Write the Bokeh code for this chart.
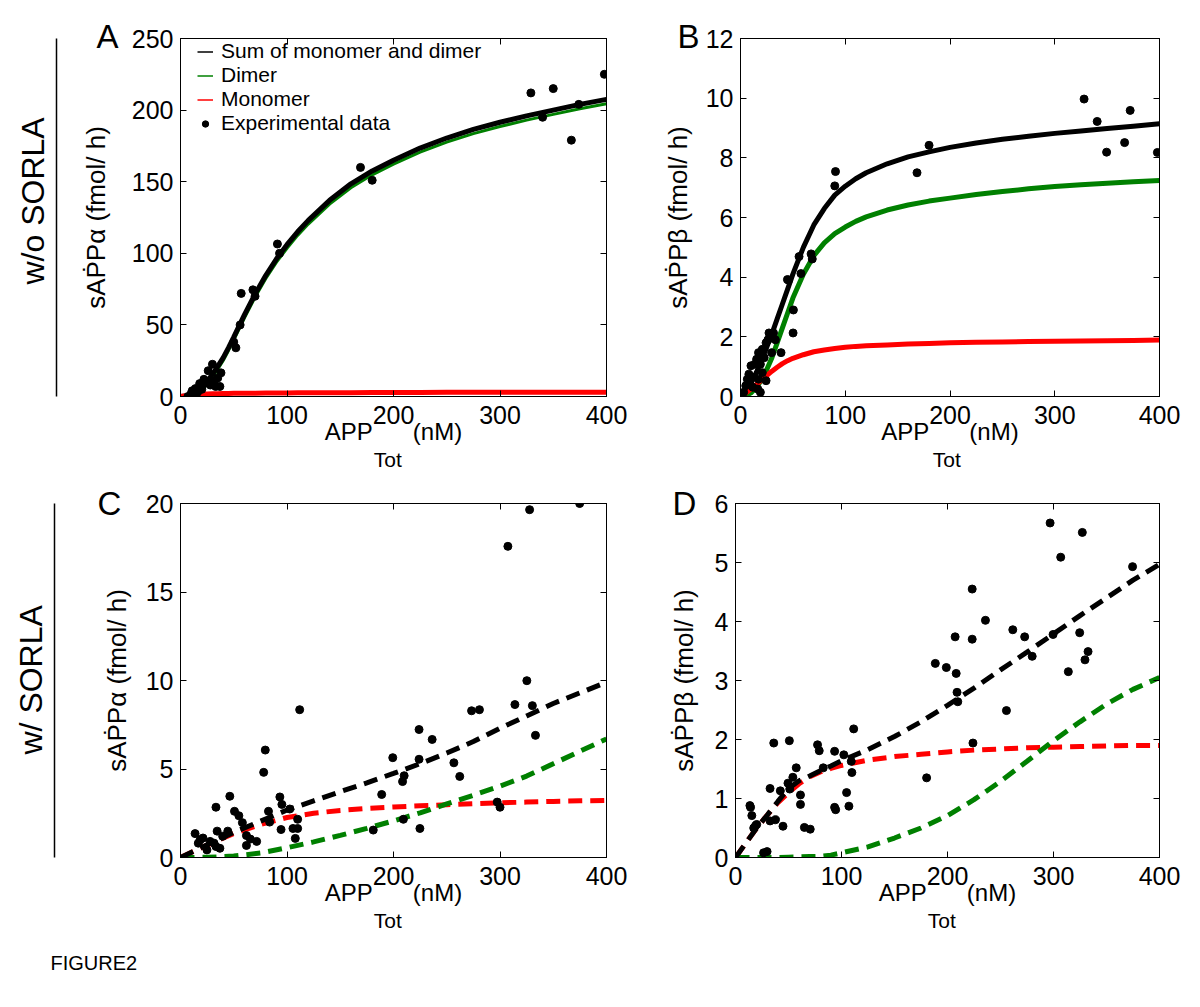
import math
from bokeh.plotting import figure
from bokeh.layouts import row, column
from bokeh.models import Range1d, LinearAxis, FixedTicker, Legend, LegendItem, Title
from bokeh.embed import file_html
from bokeh.resources import INLINE

FONT = "Liberation Sans"
BLACK = "#000000"
GREEN = "#008000"
RED = "#ff0000"

# ---------------- data ----------------
x_ticks = [0, 100, 200, 300, 400]
a_y_ticks = [0, 50, 100, 150, 200, 250]
b_y_ticks = [0, 2, 4, 6, 8, 10, 12]
c_y_ticks = [0, 5, 10, 15, 20]
d_y_ticks = [0, 1, 2, 3, 4, 5, 6]

ab_x = [0, 5, 10, 15, 20, 25, 30, 35, 40, 45, 50, 60, 70, 80, 90, 100, 110, 120, 140, 160,
        180, 200, 225, 250, 275, 300, 325, 350, 375, 400]
a_sum = [0, 0.3, 1.2, 3.2, 6.0, 10.5, 15.5, 21, 27, 34, 41.5, 57, 71.5, 84.5, 96, 106, 115, 123,
         137, 148.5, 157.5, 165, 173.5, 180.5, 186.5, 191.5, 196, 200, 204, 207.5]
a_dimer = [0, 0.05, 0.3, 1.8, 4.4, 8.9, 13.7, 19.1, 25, 32, 39.4, 54.8, 69.3, 82.2, 93.6, 103.5,
           112.5, 120.4, 134.4, 145.8, 154.8, 162.3, 170.7, 177.6, 183.6, 188.5, 193, 197, 201, 204.5]
a_mono = [0, 0.6, 1.1, 1.4, 1.6, 1.75, 1.9, 2.0, 2.1, 2.15, 2.2, 2.3, 2.35, 2.4, 2.45, 2.5, 2.55,
          2.6, 2.65, 2.7, 2.75, 2.8, 2.85, 2.9, 2.92, 2.95, 2.98, 3.0, 3.02, 3.05]
a_data_x = [7, 10, 11, 14, 16, 18, 20, 22, 24, 26, 28, 30, 32, 33, 35, 37, 38, 50, 52, 56, 57, 68,
            70, 91, 93, 169, 180, 329, 340, 350, 367, 374, 398]
a_data_y = [0, 2, 4, 5.5, 3, 9, 5, 12, 9.5, 18, 8, 22.5, 11, 7, 13, 7, 16.5, 38, 34, 50, 72, 74.5,
            70, 106.5, 100, 160, 151, 212, 195, 215, 179, 204, 225]

b_sum = [0, 0.15, 0.45, 0.8, 1.2, 1.65, 2.1, 2.6, 3.1, 3.6, 4.1, 5.0, 5.75, 6.3, 6.75, 7.05, 7.3,
         7.5, 7.8, 8.03, 8.2, 8.35, 8.5, 8.62, 8.72, 8.82, 8.9, 8.98, 9.06, 9.14]
b_dimer = [0, 0.02, 0.12, 0.3, 0.55, 0.9, 1.3, 1.8, 2.3, 2.8, 3.3, 4.1, 4.72, 5.15, 5.46, 5.68,
           5.87, 6.02, 6.25, 6.42, 6.55, 6.65, 6.77, 6.87, 6.96, 7.04, 7.1, 7.15, 7.2, 7.24]
b_mono = [0, 0.12, 0.25, 0.4, 0.55, 0.7, 0.85, 0.98, 1.1, 1.2, 1.28, 1.4, 1.5, 1.56, 1.61, 1.65,
          1.68, 1.7, 1.73, 1.76, 1.78, 1.8, 1.82, 1.83, 1.84, 1.85, 1.86, 1.87, 1.88, 1.89]
b_data_x = [3, 5, 6.5, 8, 10, 11.8, 11.8, 13.6, 15.4, 16.5, 17.2, 17.2, 19, 19, 20.8, 20.8, 22.6,
            24.4, 24.4, 26.2, 27.2, 29.7, 31.5, 33.3, 38.7, 44.8, 45.9, 50.2, 50.5, 55.9, 57.7,
            67.4, 68.5, 90, 90.7, 168.5, 180, 328, 340.5, 349.5, 366.7, 372, 398]
b_data_y = [0.14, 0.36, 0.58, 0.75, 1.03, 0.64, 0.31, 1.08, 1.25, 0.25, 1.47, 0.58, 1.08, 0.14,
            1.58, 0.8, 1.3, 1.8, 0.53, 1.9, 2.13, 1.47, 2.13, 1.9, 1.47, 3.92, 3.9, 2.13, 2.9,
            4.69, 4.12, 4.78, 4.61, 7.06, 7.54, 7.5, 8.42, 9.97, 9.22, 8.19, 8.51, 9.59, 8.18]

c_x = [0, 25, 50, 75, 100, 125, 150, 175, 200, 225, 250, 275, 300, 325, 350, 375, 400]
c_sum = [0, 0.72, 1.42, 2.05, 2.68, 3.2, 3.72, 4.22, 4.75, 5.3, 5.9, 6.55, 7.3, 8.0, 8.7, 9.3, 9.9]
c_mono = [0, 0.7, 1.36, 1.86, 2.26, 2.5, 2.66, 2.77, 2.85, 2.92, 2.98, 3.04, 3.09, 3.13, 3.17,
          3.2, 3.22]
c_dimer = [0, 0.01, 0.08, 0.25, 0.55, 0.88, 1.25, 1.65, 2.07, 2.52, 3.03, 3.52, 4.03, 4.6, 5.3,
           6.0, 6.7]
c_data_x = [13.7, 16.7, 18.5, 21.1, 24.8, 27.8, 31.5, 33.3, 33.3, 34.4, 37, 39.6, 44.4, 46.3,
            50.7, 54.8, 58.1, 61.9, 61.9, 65.6, 71.5, 78.1, 79.6, 82.6, 83.7, 93.3, 94.4, 95.2,
            102.6, 105.6, 107.8, 110, 110, 111.9, 181, 188.9, 199.3, 208.5, 209.3, 210, 224, 224,
            224.8, 236.3, 256.7, 262.2, 273.3, 280.7, 297.4, 300, 307.4, 314, 325.2, 327.8, 330.4,
            333.3, 374.8]
c_data_y = [1.35, 0.81, 1.0, 1.1, 0.43, 0.91, 0.81, 0.62, 2.84, 1.49, 0.52, 1.2, 1.49, 3.46, 2.61,
            2.36, 1.97, 1.24, 0.68, 1.04, 0.91, 4.81, 6.07, 2.61, 2.0, 3.42, 1.58, 3.0, 2.74, 1.64,
            1.08, 2.16, 1.64, 8.35, 1.55, 3.56, 5.64, 4.29, 2.16, 4.62, 7.23, 5.55, 1.64, 6.67,
            5.35, 4.58, 8.29, 8.35, 3.13, 2.84, 17.58, 8.64, 9.99, 19.65, 8.58, 6.9, 20.0]

d_x = [0, 10, 20, 30, 40, 50, 60, 70, 80, 90, 100, 125, 150, 175, 200, 225, 250, 275, 300, 325,
       350, 375, 400]
d_sum = [0, 0.25, 0.5, 0.72, 0.95, 1.17, 1.3, 1.38, 1.47, 1.55, 1.64, 1.83, 2.05, 2.3, 2.58, 2.87,
         3.18, 3.48, 3.79, 4.1, 4.4, 4.7, 4.97]
d_mono = [0, 0.25, 0.5, 0.72, 0.93, 1.1, 1.25, 1.37, 1.45, 1.51, 1.56, 1.65, 1.71, 1.75, 1.79,
          1.82, 1.84, 1.86, 1.87, 1.88, 1.89, 1.9, 1.9]
d_dimer = [0, 0, 0, 0, 0, 0.005, 0.01, 0.015, 0.02, 0.04, 0.08, 0.18, 0.33, 0.5, 0.71, 0.98, 1.29,
           1.63, 1.98, 2.3, 2.6, 2.85, 3.05]
d_data_x = [13.6, 14.2, 15.4, 17.2, 18.9, 20, 26.5, 29.8, 32.6, 32.6, 36.1, 37.7, 42.3, 44.8, 49.5,
            50.8, 51.2, 54.1, 57.3, 61.3, 61.3, 65, 70.5, 77.4, 79, 82.8, 93.5, 93.5, 94.5, 102.2,
            104.8, 107, 109.2, 109.8, 111.5, 180.3, 188.5, 198.9, 207.2, 208.2, 209, 209.7, 223.3,
            223.3, 224, 235.8, 255.6, 261.6, 272.8, 279.9, 296.8, 299.6, 306.8, 314, 324.7, 327.2,
            329.7, 332.6, 374.6]
d_data_y = [0.88, 0.85, 0.71, 0.5, 0.54, 0.56, 0.08, 0.1, 1.17, 0.62, 1.94, 0.64, 1.13, 0.53, 1.26,
            1.98, 1.16, 1.36, 1.52, 1.06, 0.9, 0.51, 0.48, 1.91, 1.81, 1.52, 1.8, 0.85, 0.81, 1.74,
            1.1, 0.87, 1.63, 1.44, 2.18, 1.35, 3.29, 3.22, 3.74, 3.12, 2.8, 2.64, 4.55, 3.70, 1.94,
            4.02, 2.49, 3.86, 3.74, 3.41, 5.67, 3.78, 5.09, 3.15, 3.81, 5.51, 3.35, 3.49, 4.93]

legend_labels = ["Sum of monomer and dimer", "Dimer", "Monomer", "Experimental data"]

# ---------------- helpers ----------------
NB = "\u00a0"
ARIAL_W = {' ': 278, NB: 278, '(': 333, ')': 333, 'A': 667, 'P': 667, 'T': 611, 'M': 833,
           'o': 556, 'n': 556, 't': 278}


def tw(s, size):
    return sum(ARIAL_W.get(c, 556) for c in s) / 1000.0 * size


def style_axis(ax, show, standoff):
    ax.major_tick_in = 6
    ax.major_tick_out = 0
    ax.minor_tick_in = 0
    ax.minor_tick_out = 0
    ax.minor_tick_line_color = None
    ax.axis_line_color = "black"
    ax.axis_line_width = 1
    ax.major_tick_line_color = "black"
    ax.major_tick_line_width = 1
    ax.major_label_text_font = FONT
    if show:
        ax.major_label_text_color = "black"
        ax.major_label_text_font_size = "25px"
        ax.major_label_standoff = standoff
    else:
        ax.major_label_text_color = None
        ax.major_label_text_font_size = "0px"
        ax.major_label_standoff = 0


def add_title(p, side, text, size, align="left", offset=0.0, standoff=0.0, valign="bottom"):
    p.add_layout(Title(text=text, align=align, offset=offset, standoff=standoff,
                       vertical_align=valign, text_font=FONT, text_font_size=f"{size}px",
                       text_font_style="normal", text_color="black"), side)


def bare_axis(ticks, tick_out, line_color, line_width=1.5):
    ax = LinearAxis(ticker=FixedTicker(ticks=ticks))
    ax.major_tick_line_color = None
    ax.minor_tick_line_color = None
    ax.major_tick_in = 0
    ax.major_tick_out = tick_out
    ax.minor_tick_in = 0
    ax.minor_tick_out = 0
    ax.major_label_text_color = None
    ax.major_label_text_font_size = "0px"
    ax.major_label_standoff = 0
    ax.axis_line_color = line_color
    ax.axis_line_width = line_width
    return ax


def panel(width, height, mbl, mbr, mbt, mbb, ymax, yticks):
    p = figure(width=width, height=height, x_range=Range1d(0, 400), y_range=Range1d(0, ymax),
               output_backend="svg", toolbar_location=None, title_location=None,
               min_border_left=mbl, min_border_right=mbr, min_border_top=mbt, min_border_bottom=mbb)
    p.xgrid.visible = False
    p.ygrid.visible = False
    p.outline_line_color = "black"
    p.outline_line_width = 1
    p.background_fill_color = "white"
    p.border_fill_color = "white"
    p.xaxis.ticker = FixedTicker(ticks=x_ticks)
    p.yaxis.ticker = FixedTicker(ticks=yticks)
    style_axis(p.xaxis[0], True, 9)
    style_axis(p.yaxis[0], True, 7)
    top_ax = LinearAxis(ticker=FixedTicker(ticks=x_ticks))
    style_axis(top_ax, False, 0)
    p.add_layout(top_ax, "above")
    right_ax = LinearAxis(ticker=FixedTicker(ticks=yticks))
    style_axis(right_ax, False, 0)
    p.add_layout(right_ax, "right")
    return p


def decorate(p, frame_w, letter, letter_off, letter_so, greek, ylab_so):
    # panel letter, drawn from the top side panel down onto the frame corner
    add_title(p, "above", letter, 33, align="left", offset=letter_off, standoff=letter_so,
              valign="bottom")
    # x label: APP_Tot(nM)
    S, s = 24, 21
    main = "APP" + NB * 6 + "(nM)"
    start = frame_w / 2 - tw(main, S) / 2
    add_title(p, "below", main, S, align="center", standoff=-17, valign="top")
    add_title(p, "below", "Tot", s, align="left", offset=start + tw("APP", S) + 1, standoff=14,
              valign="bottom")
    # y label
    add_title(p, "left", "sA\u1E56P" + greek + " (fmol/ h)", 26, align="center",
              standoff=ylab_so, valign="bottom")


# ---------------- panels ----------------
ROW1_H, ROW2_H = 482, 515
pA = panel(650, ROW1_H, 180, 44, 38, 86, 250, a_y_ticks)
pA.line(ab_x, a_dimer, color=GREEN, line_width=3)
pA.line(ab_x, a_sum, color=BLACK, line_width=5)
pA.line(ab_x, a_mono, color=RED, line_width=5)
dotsA = pA.scatter(a_data_x, a_data_y, size=8, color=BLACK)
lg1 = pA.line(x=ab_x[:1], y=a_sum[:1], color=BLACK, line_width=1.5)
lg2 = pA.line(x=ab_x[:1], y=a_dimer[:1], color=GREEN, line_width=1.5)
lg3 = pA.line(x=ab_x[:1], y=a_mono[:1], color=RED, line_width=1.5)
legend = Legend(items=[LegendItem(label=legend_labels[0], renderers=[lg1]),
                       LegendItem(label=legend_labels[1], renderers=[lg2]),
                       LegendItem(label=legend_labels[2], renderers=[lg3]),
                       LegendItem(label=legend_labels[3], renderers=[dotsA])],
                location=(17, 358 - 97), glyph_width=16, glyph_height=23, label_height=23,
                spacing=0, padding=0, margin=0, label_standoff=8,
                label_text_font=FONT, label_text_font_size="21px", label_text_color="black",
                border_line_color=None, background_fill_alpha=0)
pA.add_layout(legend)
decorate(pA, 426, "A", -84, -33, "\u03b1", 35)
pA.add_layout(bare_axis([0], 5, None), "left")           # gap
pA.add_layout(bare_axis([], 0, "black"), "left")          # separator line
add_title(pA, "left", "w/o SORLA", 32, align="left", offset=112, standoff=12, valign="bottom")

pB = panel(542, ROW1_H, 85, 33, 38, 86, 12, b_y_ticks)
pB.line(ab_x, b_sum, color=BLACK, line_width=5)
pB.line(ab_x, b_dimer, color=GREEN, line_width=5)
pB.line(ab_x, b_mono, color=RED, line_width=5)
pB.scatter(b_data_x, b_data_y, size=8, color=BLACK)
decorate(pB, 424, "B", -63, -33, "\u03b2", 20)

DASH = "14 8"
pC = panel(650, ROW2_H, 180, 44, 21, 140, 20, c_y_ticks)
pC.line(c_x, c_mono, color=RED, line_width=5, line_dash=DASH)
pC.line(c_x, c_dimer, color=GREEN, line_width=5, line_dash=DASH)
pC.line(c_x, c_sum, color=BLACK, line_width=5, line_dash=DASH)
pC.scatter(c_data_x, c_data_y, size=8, color=BLACK)
decorate(pC, 426, "C", -83, -37, "\u03b1", 22)
pC.add_layout(bare_axis([0], 34, None), "left")           # gap
pC.add_layout(bare_axis([], 0, "black"), "left")          # separator line
add_title(pC, "left", "w/ SORLA", 32, align="left", offset=103, standoff=12, valign="bottom")
add_title(pC, "below", "FIGURE2", 20, align="left", offset=-130, standoff=25, valign="middle")

pD = panel(542, ROW2_H, 85, 33, 21, 140, 6, d_y_ticks)
pD.line(d_x, d_mono, color=RED, line_width=5, line_dash=DASH)
pD.line(d_x, d_dimer, color=GREEN, line_width=5, line_dash=DASH)
pD.line(d_x, d_sum, color=BLACK, line_width=5, line_dash=DASH)
pD.scatter(d_data_x, d_data_y, size=8, color=BLACK)
decorate(pD, 424, "D", -63, -37, "\u03b2", 26)

layout = column(row(pA, pB), row(pC, pD))

with open("out.html", "w") as f:
    f.write(file_html(layout, INLINE))
